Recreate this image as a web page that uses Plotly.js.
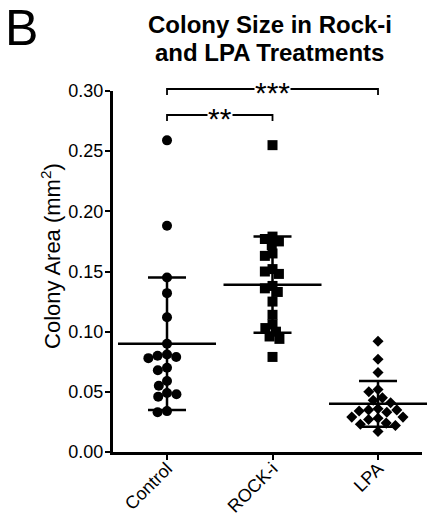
<!DOCTYPE html>
<html>
<head>
<meta charset="utf-8">
<script src="https://cdn.plot.ly/plotly-3.0.1.min.js"></script>
<style>html,body{margin:0;padding:0;background:#fff;}#chart{width:428px;height:518px;}</style>
</head>
<body>
<div id="chart"></div>
<script>
const categories = ["Control", "ROCK-i", "LPA"];
const controlValues = [0.259, 0.188, 0.145, 0.132, 0.112, 0.090, 0.081, 0.080, 0.079, 0.078, 0.070, 0.068, 0.059, 0.055, 0.049, 0.048, 0.046, 0.034, 0.033];
const rockValues = [0.255, 0.179, 0.177, 0.175, 0.172, 0.165, 0.163, 0.152, 0.150, 0.148, 0.138, 0.136, 0.133, 0.125, 0.114, 0.106, 0.103, 0.100, 0.096, 0.094, 0.079];
const lpaValues = [0.092, 0.077, 0.066, 0.052, 0.050, 0.045, 0.043, 0.041, 0.036, 0.035, 0.035, 0.034, 0.033, 0.029, 0.029, 0.028, 0.027, 0.024, 0.023, 0.022, 0.017];
const means = [0.090, 0.139, 0.040];
const sds = [0.055, 0.040, 0.019];
const yTickVals = [0, 0.05, 0.10, 0.15, 0.20, 0.25, 0.30];
const yTickText = ["0.00", "0.05", "0.10", "0.15", "0.20", "0.25", "0.30"];

// geometry used only to compute a beeswarm spread
const W = 428, H = 518;
const margin = {l: 113, r: 6, t: 91, b: 66};
const xRange = [-0.512, 2.417];
const yRange = [0, 0.30];
const pxPerY = (H - margin.t - margin.b) / (yRange[1] - yRange[0]);
const pxPerX = (W - margin.l - margin.r) / (xRange[1] - xRange[0]);

function swarm(values, d) {
  const placed = [];
  const offs = [];
  values.forEach(v => {
    const y = v * pxPerY;
    const cands = [0];
    placed.forEach(p => {
      const dy = Math.abs(p.y - y);
      if (dy < d) {
        const dx = Math.sqrt(d * d - dy * dy) + 0.01;
        cands.push(p.x + dx, p.x - dx);
      }
    });
    cands.sort((a, b) => Math.abs(a) - Math.abs(b) || a - b);
    let chosen = 0;
    for (const c of cands) {
      const ok = placed.every(p => (p.x - c) ** 2 + (p.y - y) ** 2 >= d * d - 0.001);
      if (ok) { chosen = c; break; }
    }
    placed.push({x: chosen, y: y});
    offs.push(chosen / pxPerX);
  });
  return offs;
}

function groupTrace(values, idx, symbol, size, d) {
  const offs = swarm(values, d);
  return {
    type: "scatter", mode: "markers",
    x: offs.map(o => idx + o), y: values,
    marker: {symbol: symbol, size: size, color: "#000", line: {width: 0}},
    cliponaxis: false, hoverinfo: "y", showlegend: false
  };
}

const traces = [
  groupTrace(controlValues, 0, "circle", 10, 9.5),
  groupTrace(rockValues, 1, "square", 10, 8),
  groupTrace(lpaValues, 2, "diamond", 8.5, 9.5),
  {
    type: "scatter", mode: "markers",
    x: [0, 1, 2], y: means,
    marker: {symbol: "line-ew", size: 70, color: "#000", line: {width: 2.5, color: "#000"}},
    error_y: {type: "data", array: sds, visible: true, color: "#000", thickness: 2.5, width: 19},
    cliponaxis: false, hoverinfo: "y", showlegend: false
  }
];

const font = "Liberation Sans, Arial, Helvetica, sans-serif";
const layout = {
  width: W, height: H,
  margin: margin,
  paper_bgcolor: "#fff", plot_bgcolor: "#fff",
  font: {family: font, color: "#000000"},
  xaxis: {
    range: xRange, tickmode: "array", tickvals: [0, 1, 2], ticktext: categories,
    tickangle: -45, ticks: "outside", ticklen: 5, tickwidth: 2, tickcolor: "#000",
    ticklabelstandoff: -9,
    showline: true, linewidth: 3, linecolor: "#000",
    showgrid: false, zeroline: false,
    tickfont: {size: 18, family: font, color: "#000000"}
  },
  yaxis: {
    range: yRange, tickmode: "array", tickvals: yTickVals, ticktext: yTickText,
    ticks: "outside", ticklen: 5, tickwidth: 2, tickcolor: "#000",
    ticklabelstandoff: -2,
    showline: true, linewidth: 3, linecolor: "#000",
    showgrid: false, zeroline: false,
    tickfont: {size: 18, family: font, color: "#000000"}
  },
  shapes: [
    {type: "path", xref: "x", yref: "paper", path: "M0,0.989 L0,1.0055 L2,1.0055 L2,0.989", line: {color: "#000", width: 1.8}},
    {type: "path", xref: "x", yref: "paper", path: "M0,0.917 L0,0.9335 L1,0.9335 L1,0.917", line: {color: "#000", width: 1.8}}
  ],
  annotations: [
    {text: "Colony Area (mm<sup>2</sup>)", xref: "paper", yref: "paper", x: -0.2006, y: 0.543,
     xanchor: "center", yanchor: "middle",
     textangle: -90, showarrow: false, font: {size: 22, family: font, color: "#000000"}},
    {text: "<b>Colony Size in Rock-i</b>", xref: "paper", yref: "paper", x: 0.508, y: 1.185, yanchor: "middle",
     showarrow: false, font: {size: 24, family: font, color: "#000000"}},
    {text: "<b>and LPA Treatments</b>", xref: "paper", yref: "paper", x: 0.508, y: 1.108, yanchor: "middle",
     showarrow: false, font: {size: 24, family: font, color: "#000000"}},
    {text: "***", xref: "x", yref: "paper", x: 1, y: 1.0055, yanchor: "middle", showarrow: false,
     bgcolor: "#fff", font: {size: 30, family: font, color: "#000000"}, yshift: -3, borderpad: 0},
    {text: "**", xref: "x", yref: "paper", x: 0.5, y: 0.9335, yanchor: "middle", showarrow: false,
     bgcolor: "#fff", font: {size: 30, family: font, color: "#000000"}, yshift: -3, borderpad: 0},
    {text: "B", xref: "paper", yref: "paper", x: -0.355, y: 1.175, xanchor: "left", yanchor: "middle",
     showarrow: false, font: {size: 50, family: font, color: "#000000"}}
  ]
};

Plotly.newPlot("chart", traces, layout, {displayModeBar: false, staticPlot: true});
</script>
</body>
</html>
